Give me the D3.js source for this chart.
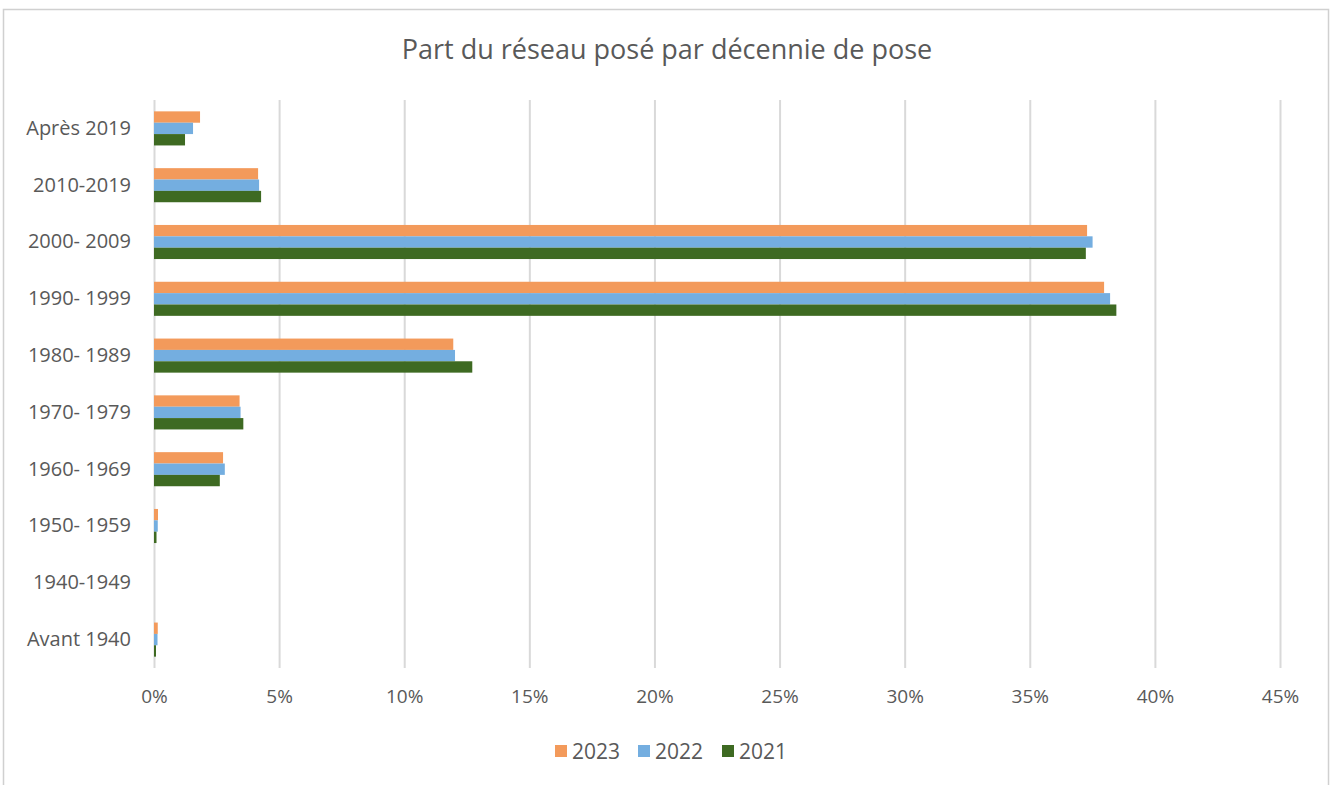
<!DOCTYPE html>
<html><head><meta charset="utf-8">
<script src="https://cdnjs.cloudflare.com/ajax/libs/d3/7.8.5/d3.min.js"></script>
<style>body{margin:0;background:#fff;}svg{display:block;font-family:"Open Sans",sans-serif;}</style>
</head><body>
<script>
const categories = ["Après 2019","2010-2019","2000- 2009","1990- 1999","1980- 1989","1970- 1979","1960- 1969","1950- 1959","1940-1949","Avant 1940"];
const seriesNames = ["2023","2022","2021"];
const values2023 = [1.84, 4.16, 37.29, 37.97, 11.96, 3.42, 2.76, 0.16, 0, 0.15];
const values2022 = [1.56, 4.20, 37.51, 38.21, 12.03, 3.46, 2.83, 0.15, 0, 0.14];
const values2021 = [1.24, 4.28, 37.24, 38.46, 12.72, 3.57, 2.63, 0.10, 0, 0.08];
const xTicks = [0,5,10,15,20,25,30,35,40,45];
const colors = ["#F39A5B","#74AEE0","#3E6A22"];
const title = "Part du réseau posé par décennie de pose";

(function(){
const W=1334,H=785;
const svg=d3.select("body").append("svg").attr("width",W).attr("height",H);
svg.append("rect").attr("x",3.5).attr("y",9.5).attr("width",1325).attr("height",800)
  .attr("fill","#fff").attr("stroke","#d0d0d0").attr("stroke-width",1.5);

const mLeft=154,mRight=1280,mTop=100,mBottom=668;
const x=d3.scaleLinear().domain([0,45]).range([mLeft,mRight]);
const y=d3.scaleBand().domain(categories).range([mTop,mBottom]).paddingInner(0.4).paddingOuter(0.2);
const ys=d3.scaleBand().domain(seriesNames).range([0,y.bandwidth()]);

const gx=svg.append("g").attr("transform",`translate(0,${mBottom})`)
  .call(d3.axisBottom(x).tickValues(xTicks).tickSize(-(mBottom-mTop)).tickFormat(d=>d+"%").tickPadding(22));
gx.select(".domain").remove();
gx.selectAll(".tick line").attr("stroke","#d9d9d9").attr("stroke-width",2);
gx.selectAll(".tick text").attr("fill","#595959").style("font-size","19px").style("font-family","'Open Sans',sans-serif");

const gy=svg.append("g").attr("transform",`translate(${mLeft},0)`)
  .call(d3.axisLeft(y).tickSize(0).tickPadding(23));
gy.select(".domain").remove();
gy.selectAll(".tick text").attr("fill","#595959").style("font-size","20px").style("font-family","'Open Sans',sans-serif");

const series=[values2023,values2022,values2021];
series.forEach((vals,si)=>{
  svg.append("g").selectAll("rect").data(vals).join("rect")
    .attr("x",x(0)).attr("y",(d,i)=>y(categories[i])+ys(seriesNames[si]))
    .attr("width",d=>x(d)-x(0)).attr("height",ys.bandwidth())
    .attr("fill",colors[si]);
});

svg.append("text").attr("x",667).attr("y",59).attr("text-anchor","middle")
  .attr("fill","#595959").style("font-size","27px").text(title);

const legX=[555,638,722];
const lg=svg.append("g");
seriesNames.forEach((s,i)=>{
  lg.append("rect").attr("x",legX[i]).attr("y",745).attr("width",12).attr("height",12).attr("fill",colors[i]);
  lg.append("text").attr("x",legX[i]+17).attr("y",759).attr("fill","#595959").style("font-size","21px").text(s);
});
})();
</script>
</body></html>
